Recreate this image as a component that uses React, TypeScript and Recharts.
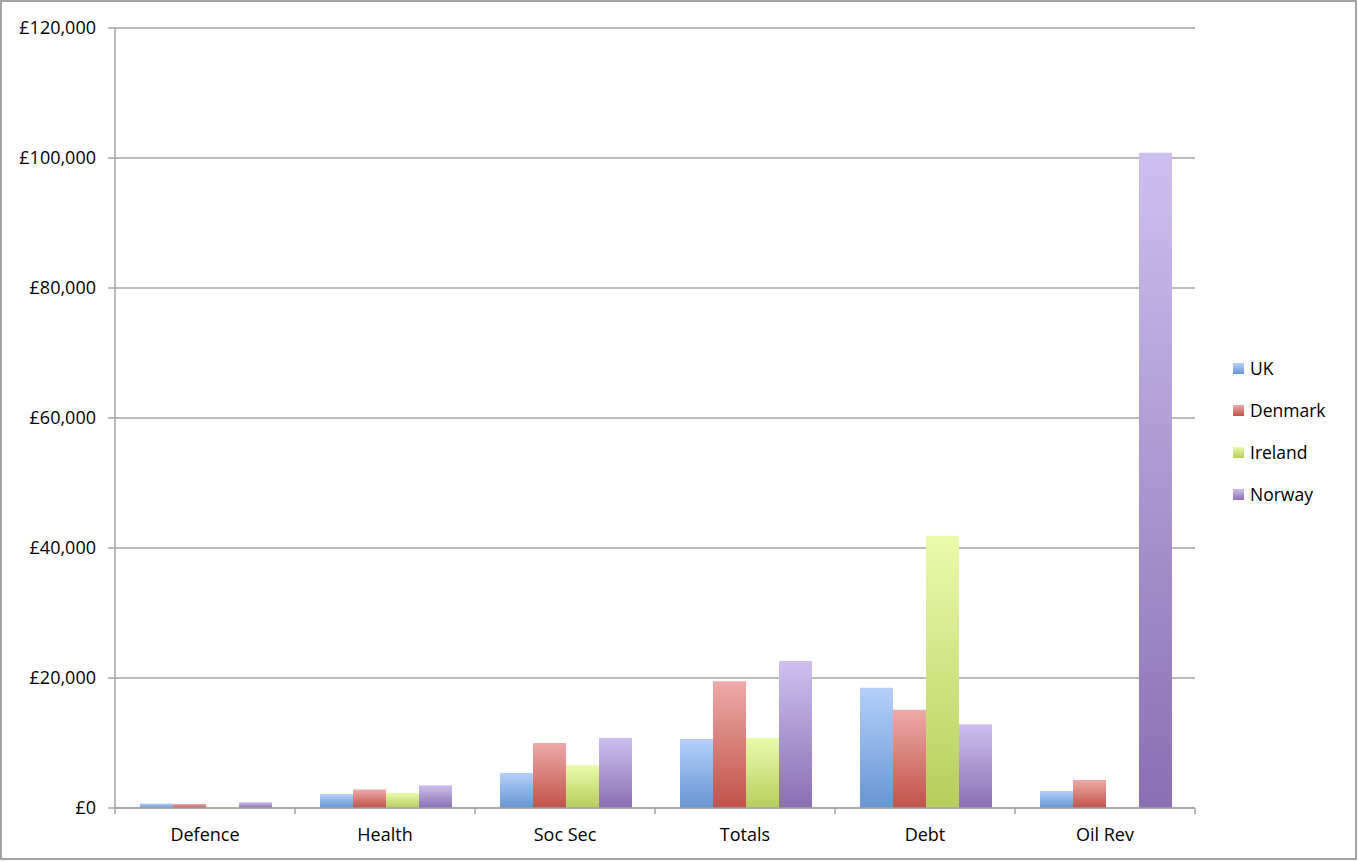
import React from 'react';
import { BarChart, Bar, XAxis, YAxis, CartesianGrid, Legend } from 'recharts';

const categories = ['Defence', 'Health', 'Soc Sec', 'Totals', 'Debt', 'Oil Rev'];
const ukValues = [700, 2150, 5400, 10600, 18500, 2600];
const denmarkValues = [600, 2850, 10000, 19500, 15100, 4300];
const irelandValues = [200, 2350, 6600, 10800, 41900, 0];
const norwayValues = [900, 3500, 10800, 22600, 12900, 100800];
const yTicks = [0, 20000, 40000, 60000, 80000, 100000, 120000];

const seriesList = [
    { key: 'UK', values: ukValues, top: '#b5cffa', bottom: '#6895d4' },
    { key: 'Denmark', values: denmarkValues, top: '#eeaaa8', bottom: '#c0524b' },
    { key: 'Ireland', values: irelandValues, top: '#eafbab', bottom: '#b7cd5d' },
    { key: 'Norway', values: norwayValues, top: '#cdc0ee', bottom: '#8a6fb3' },
];

const data = categories.map((name, i) => {
    const row: any = { name };
    seriesList.forEach(s => { row[s.key] = s.values[i]; });
    return row;
});

const FONT = '"Open Sans", "DejaVu Sans", sans-serif';
const AXIS_GREY = '#a3a3a3';
const PLOT_LEFT = 115;
const PLOT_RIGHT = 1195;
const HALF_BAND = (PLOT_RIGHT - PLOT_LEFT) / categories.length / 2;

const CategoryTick = ({ x, y, payload, index }: any) => (
    <g>
        <line x1={x - HALF_BAND} y1={y} x2={x - HALF_BAND} y2={y + 6} stroke={AXIS_GREY} strokeWidth={1.5} />
        {index === categories.length - 1 && (
            <line x1={x + HALF_BAND} y1={y} x2={x + HALF_BAND} y2={y + 6} stroke={AXIS_GREY} strokeWidth={1.5} />
        )}
        <text x={x} y={y + 33} textAnchor="middle" fontSize={18} fontFamily={FONT} fill="#000">
            {payload.value}
        </text>
    </g>
);

const LegendContent = () => (
    <div style={{ fontFamily: FONT, fontSize: 17.5, color: '#000' }}>
        {seriesList.map(s => (
            <div key={s.key} style={{ display: 'flex', alignItems: 'center', height: 42 }}>
                <div
                    style={{
                        width: 11,
                        height: 11,
                        marginRight: 6,
                        background: `linear-gradient(${s.top}, ${s.bottom})`,
                    }}
                />
                <span>{s.key}</span>
            </div>
        ))}
    </div>
);

export default function App() {
    return (
        <div
            style={{
                position: 'absolute',
                left: 0,
                top: 0,
                width: 1358,
                height: 862,
                background: '#fff',
            }}
        >
            <div
                style={{
                    position: 'absolute',
                    left: 0,
                    top: 0,
                    width: 1357,
                    height: 860,
                    border: `2px solid ${AXIS_GREY}`,
                    boxSizing: 'border-box',
                }}
            />
            <BarChart
                width={1358}
                height={862}
                data={data}
                margin={{ top: 28, right: 1358 - PLOT_RIGHT, left: 0, bottom: 14 }}
                barCategoryGap={25}
                barGap={0}
            >
                <defs>
                    {seriesList.map(s => (
                        <linearGradient key={s.key} id={`grad-${s.key}`} x1="0" y1="0" x2="0" y2="1">
                            <stop offset="0%" stopColor={s.top} />
                            <stop offset="100%" stopColor={s.bottom} />
                        </linearGradient>
                    ))}
                </defs>
                <CartesianGrid vertical={false} stroke={AXIS_GREY} strokeWidth={1.5} />
                <XAxis
                    dataKey="name"
                    height={40}
                    axisLine={{ stroke: AXIS_GREY, strokeWidth: 1.5 }}
                    tickLine={false}
                    tickSize={0}
                    tickMargin={0}
                    tick={<CategoryTick />}
                    interval={0}
                />
                <YAxis
                    width={PLOT_LEFT}
                    domain={[0, 120000]}
                    ticks={yTicks}
                    interval={0}
                    axisLine={{ stroke: AXIS_GREY, strokeWidth: 1.5 }}
                    tickLine={{ stroke: AXIS_GREY, strokeWidth: 1.5 }}
                    tickSize={7}
                    tickMargin={12}
                    tick={{ fill: '#000', fontSize: 18, fontFamily: FONT }}
                    tickFormatter={(v: number) => '£' + v.toLocaleString('en-GB')}
                />
                <Legend
                    content={<LegendContent />}
                    layout="horizontal"
                    verticalAlign="middle"
                    align="center"
                    wrapperStyle={{ position: 'absolute', left: 1233, top: 347, width: 120, right: 'auto' }}
                />
                {seriesList.map(s => (
                    <Bar
                        key={s.key}
                        dataKey={s.key}
                        fill={`url(#grad-${s.key})`}
                        isAnimationActive={false}
                    />
                ))}
            </BarChart>
        </div>
    );
}
